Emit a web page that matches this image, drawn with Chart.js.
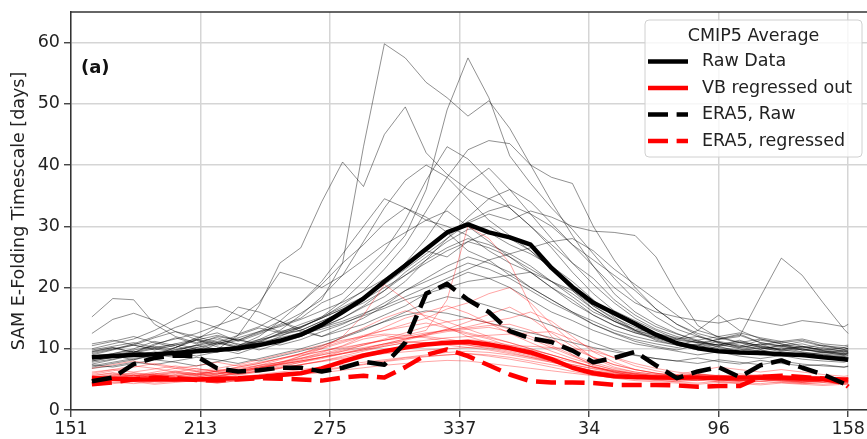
<!DOCTYPE html>
<html>
<head>
<meta charset="utf-8">
<title>SAM e-folding timescale</title>
<script src="https://cdn.jsdelivr.net/npm/chart.js@4.4.1/dist/chart.umd.min.js"></script>
<style>
  html, body { margin: 0; padding: 0; background: #fff; }
  #chart-wrap { width: 867px; height: 439px; }
</style>
</head>
<body>
<div id="chart-wrap"><canvas id="efoldChart" width="867" height="439"></canvas></div>
<script>
// day of year, counted on past new year (values > 365 wrap round)
const days = [161, 171, 181, 191, 201, 211, 221, 231, 241, 251,
              261, 271, 281, 291, 301, 311, 321, 331, 341, 351,
              361, 371, 381, 391, 401, 411, 421, 431, 441, 451,
              461, 471, 481, 491, 501, 511, 521, 523];
const xTickDays = [151, 213, 275, 337, 399, 461, 523];
const yTicks = [0, 10, 20, 30, 40, 50, 60];

const legendTitle = 'CMIP5 Average';
const seriesNames = ['Raw Data', 'VB regressed out', 'ERA5, Raw', 'ERA5, regressed'];
const panelTag = '(a)';
const yTitle = 'SAM E-Folding Timescale [days]';

// CMIP5 averages
const rawMean = [8.6, 8.8, 9.0, 9.1, 9.3, 9.6, 9.8, 10.1, 10.6, 11.3,
                 12.3, 13.9, 16.0, 18.2, 21.0, 23.6, 26.3, 29.0, 30.3, 29.0,
                 28.2, 27.0, 23.2, 20.1, 17.5, 15.8, 14.1, 12.3, 10.9, 10.1,
                 9.6, 9.4, 9.3, 9.1, 9.0, 8.6, 8.3, 8.2];
const vbMean = [5.2, 5.1, 5.0, 5.0, 5.0, 5.0, 5.1, 5.2, 5.4, 5.7,
                6.0, 6.8, 7.9, 8.9, 9.6, 10.2, 10.7, 11.0, 11.1, 10.7,
                10.1, 9.4, 8.3, 6.9, 6.0, 5.5, 5.4, 5.3, 5.3, 5.3,
                5.2, 5.3, 5.3, 5.3, 5.2, 5.1, 5.0, 5.0];

// ERA5 reanalysis
const era5Raw = [4.7, 5.3, 7.5, 8.5, 8.9, 8.8, 6.8, 6.3, 6.5, 6.9,
                 6.9, 6.3, 6.9, 7.9, 7.4, 11.0, 19.0, 20.6, 18.0, 16.0,
                 12.9, 11.7, 11.1, 9.7, 7.8, 8.5, 9.5, 7.3, 5.2, 6.3,
                 7.0, 5.4, 7.3, 8.1, 6.9, 5.8, 4.3, 4.2];
const era5Reg = [4.2, 4.5, 5.0, 5.3, 5.2, 4.9, 4.8, 5.0, 5.2, 5.1,
                 5.0, 4.8, 5.3, 5.6, 5.3, 7.0, 9.0, 9.9, 8.8, 7.3,
                 5.8, 4.7, 4.5, 4.5, 4.4, 4.1, 4.1, 4.1, 4.0, 3.8,
                 3.9, 3.9, 5.4, 5.6, 5.4, 5.1, 4.4, 3.8];

// individual models, raw
const modelsRaw = [
  [9.5,10.2,9.4,10.6,11.8,10.8,12.0,11.4,12.6,14.0, 15.8,18.0,24.0,43.0,59.8,57.5,53.5,51.0,48.0,50.5, 46.0,40.0,34.0,28.5,23.5,19.0,16.0,14.0,12.5,11.2, 10.6,11.4,10.3,9.8,10.4,9.7,9.1,9.3],
  [8.0,8.6,9.6,8.9,10.2,11.4,10.3,9.6,11.0,12.6, 13.4,15.2,17.8,21.0,24.6,28.5,36.0,49.0,57.5,51.0, 41.5,37.0,33.0,29.5,25.5,21.5,18.0,15.2,13.2,12.0, 11.0,10.4,11.4,10.8,9.8,10.2,9.5,9.8],
  [7.5,8.2,9.0,8.4,9.6,10.6,9.9,12.2,17.0,24.0, 26.5,34.0,40.5,36.5,45.0,49.5,42.0,38.5,36.0,34.5, 33.0,30.0,26.5,22.5,19.0,16.2,14.6,13.0,11.6,12.0, 11.1,10.2,10.8,9.6,10.0,9.3,9.8,9.5],
  [8.8,9.2,10.0,11.2,10.5,9.4,10.8,11.6,10.6,12.0, 13.5,15.0,17.2,19.5,23.0,27.0,32.5,38.0,42.5,44.0, 43.5,40.0,38.0,37.0,30.0,24.5,20.0,16.5,14.0,12.5, 11.6,12.4,11.0,10.5,11.2,10.4,9.9,10.1],
  [10.5,11.2,12.0,11.0,10.2,11.8,12.6,11.2,12.4,13.8, 15.0,17.5,19.0,22.5,26.0,31.0,37.5,43.0,41.0,37.5, 33.0,30.0,27.0,24.0,21.5,18.0,15.5,13.6,12.4,11.4, 12.0,11.0,10.6,11.2,10.4,9.8,10.2,10.0],
  [7.2,7.8,8.4,9.0,8.6,9.8,11.0,10.2,11.5,13.0, 15.5,18.5,22.0,27.5,33.0,37.5,40.0,38.0,34.5,31.0, 28.5,26.0,23.0,20.0,17.0,14.8,13.0,11.4,10.6,9.8, 10.4,9.5,9.0,9.4,8.8,8.5,8.7,8.6],
  [9.0,9.8,10.6,11.8,12.8,12.0,11.0,12.2,13.4,12.6, 14.0,15.2,16.8,18.5,20.5,23.0,25.5,28.0,30.5,32.0, 31.0,32.5,31.5,30.0,29.2,29.0,28.5,25.0,19.0,13.8, 11.8,11.0,11.6,10.8,10.2,10.6,9.9,10.1],
  [8.4,8.9,8.2,9.1,9.8,10.6,11.5,10.8,9.8,10.9, 12.0,13.6,15.0,16.8,18.5,21.0,24.5,28.0,31.5,34.5, 36.0,34.0,30.5,27.0,24.5,22.0,19.5,16.5,14.0,12.2, 11.0,10.4,9.9,10.6,10.0,9.4,9.0,9.2],
  [9.2,9.9,10.8,12.0,13.5,14.6,13.4,12.4,13.6,15.5, 17.5,20.5,24.0,27.0,30.5,33.0,31.5,29.0,26.0,24.5, 22.0,20.0,18.0,16.0,14.5,13.0,12.0,11.2,10.6,11.4, 10.2,9.8,10.5,9.8,9.4,9.1,8.9,9.0],
  [7.8,8.3,8.9,9.5,8.8,9.4,10.0,9.2,10.4,11.2, 12.0,13.5,15.0,17.0,19.5,22.0,24.0,26.0,27.5,26.5, 25.0,23.0,21.0,18.5,16.0,14.5,13.0,12.2,11.4,11.0, 11.5,12.0,18.5,24.8,22.0,17.5,13.2,12.5],
  [8.5,9.0,9.6,8.9,9.3,10.2,9.6,10.5,11.3,12.5, 13.0,14.5,16.0,18.5,21.0,24.0,26.0,25.0,27.5,29.0, 27.0,25.5,23.5,21.0,18.0,15.2,13.0,12.0,11.5,13.0, 15.5,13.0,11.6,11.0,11.4,10.5,10.2,10.4],
  [15.2,18.2,18.0,14.0,12.0,11.0,11.8,10.6,11.5,12.2, 13.0,14.5,16.0,17.5,19.5,22.5,25.0,27.5,29.5,30.0, 28.0,26.0,23.0,19.5,16.5,14.5,13.2,12.5,11.8,11.0, 10.6,10.2,10.8,10.4,9.8,9.6,9.4,9.6],
  [12.5,14.8,15.8,14.6,12.8,11.5,10.6,11.4,12.8,14.5, 13.2,12.0,13.5,15.0,17.0,19.5,21.0,22.5,24.0,23.0, 21.5,19.5,17.5,15.8,14.0,12.6,11.5,10.8,10.2,10.8, 10.0,9.6,10.2,9.5,9.1,9.4,9.0,9.2],
  [10.0,10.8,11.6,13.0,14.8,16.6,16.9,15.5,14.0,12.8, 13.6,15.0,16.5,18.0,20.0,22.0,24.5,26.5,28.0,27.0, 25.5,23.5,21.0,19.0,16.5,14.5,12.8,11.8,11.0,10.5, 11.2,10.6,10.0,10.5,9.8,9.5,9.2,9.4],
  [7.0,7.6,8.2,9.0,10.2,11.5,13.5,16.8,16.0,14.5, 12.8,12.0,13.0,14.0,15.5,17.0,19.0,21.0,22.5,21.5, 20.0,18.0,16.0,14.6,13.0,11.8,10.8,10.2,9.6,9.0, 9.5,8.8,8.4,8.9,8.3,8.0,7.8,8.0],
  [9.6,10.2,9.4,10.8,11.6,12.5,13.8,15.0,17.5,22.5, 21.5,20.0,22.0,24.5,27.0,29.0,31.0,30.0,28.5,26.0, 24.0,22.5,20.0,18.0,15.5,13.8,12.6,11.8,11.0,10.6, 11.6,12.2,11.0,10.4,10.8,10.0,9.7,9.9],
  [7.4,7.0,7.6,8.2,7.8,7.2,7.9,8.6,8.0,8.8, 9.6,10.5,11.8,13.0,14.5,16.0,17.5,18.5,18.0,17.0, 16.0,15.0,13.8,12.5,11.0,9.8,9.0,8.4,8.0,7.6, 8.2,7.8,7.4,8.0,7.5,7.2,7.0,7.2],
  [8.2,8.8,9.4,10.2,9.6,8.8,9.5,10.4,11.2,10.6, 11.5,12.8,14.0,15.6,17.5,19.5,21.5,23.5,25.0,24.0, 22.5,20.0,18.0,16.0,14.0,12.5,11.2,10.4,9.8,10.6, 9.6,9.2,9.8,9.1,8.7,8.9,8.5,8.6],
  [10.8,11.4,10.6,9.8,10.6,11.4,12.2,11.4,10.8,11.6, 12.4,13.2,14.2,15.4,16.6,18.0,19.0,20.0,21.0,21.5, 22.0,22.5,21.0,19.5,17.0,15.0,13.5,12.4,11.6,11.0, 10.4,11.0,10.2,9.8,10.3,9.6,9.2,9.4],
  [8.6,9.2,9.8,10.4,9.9,10.5,11.2,10.4,11.0,11.8, 12.6,13.5,14.5,15.8,17.0,18.5,20.0,21.5,23.0,24.5, 25.5,26.5,27.5,28.0,26.0,23.0,20.5,18.0,15.5,13.0, 12.0,12.6,11.8,11.2,11.6,10.8,10.5,10.6],
  [9.4,10.0,10.6,10.0,9.4,10.2,11.0,10.2,11.2,12.4, 13.6,15.0,16.5,18.5,21.0,24.0,28.0,33.0,37.0,39.5, 36.0,32.0,28.0,24.0,20.5,17.5,15.0,13.2,12.0,11.2, 10.6,11.2,10.4,10.0,10.4,9.8,9.5,9.7],
  [6.8,7.2,7.8,7.4,8.0,8.6,8.2,7.6,8.4,9.2, 10.0,11.0,12.0,13.2,14.4,15.5,16.2,15.8,15.0,14.2, 13.4,12.6,11.8,11.0,10.2,9.5,8.9,8.4,8.0,8.5, 7.9,7.5,8.1,7.6,7.2,7.4,7.0,7.1],
  [8.0,8.6,9.3,10.0,10.8,10.0,9.4,10.5,12.0,14.5, 17.5,21.0,25.5,30.0,34.5,33.0,31.0,32.5,30.0,27.5, 25.0,22.5,20.0,17.5,15.5,13.8,12.6,11.6,10.8,10.2, 10.8,10.0,9.6,10.2,9.5,9.0,8.7,8.9],
  [9.8,10.4,11.0,10.2,10.8,11.6,10.8,11.8,12.8,13.6, 14.8,16.2,17.6,19.4,21.4,23.8,26.2,28.6,30.8,32.5, 33.5,32.0,30.0,27.0,23.5,20.0,17.5,16.0,15.2,14.6, 14.2,15.0,14.4,13.8,14.6,14.2,13.6,14.0]
];

// individual models, VB regressed out
const modelsVB = [
  [5.0,5.4,5.8,5.2,5.6,6.0,5.5,6.2,6.8,7.5, 8.2,9.0,9.8,10.6,11.4,12.2,13.0,18.0,30.0,28.0, 24.0,17.0,12.0,9.0,7.2,6.2,5.8,5.5,5.2,5.6, 5.3,5.0,5.4,5.1,4.9,5.2,4.8,5.0],
  [4.8,5.2,5.6,6.0,5.5,5.0,5.6,6.2,7.0,7.8, 8.8,10.0,12.0,15.5,20.5,18.0,15.0,13.5,12.0,11.0, 10.0,9.0,8.0,7.0,6.2,5.6,5.2,5.0,4.8,5.1, 4.9,4.7,5.0,4.8,4.6,4.8,4.5,4.6],
  [5.6,6.0,5.4,5.8,6.2,5.7,6.4,7.0,7.6,8.4, 9.2,10.0,11.0,12.0,13.0,14.0,15.0,16.5,17.5,19.0, 20.0,17.5,14.0,11.0,8.5,7.0,6.2,5.8,5.5,5.2, 5.6,5.3,5.0,5.4,5.1,4.8,5.0,5.1],
  [4.4,4.8,5.2,5.6,5.0,5.4,5.9,6.4,7.0,7.6, 8.4,9.4,10.5,12.0,13.5,15.0,16.0,17.0,15.8,14.2, 12.5,11.0,9.6,8.4,7.4,6.6,6.0,5.6,5.2,5.5, 5.0,4.8,5.2,4.9,4.6,4.8,4.4,4.5],
  [5.2,5.6,6.0,5.6,6.2,6.8,6.2,5.8,6.4,7.0, 7.8,8.6,9.6,10.6,11.6,12.6,13.6,14.4,15.0,14.2, 13.2,12.0,10.5,9.0,7.8,6.8,6.2,5.8,5.6,5.3, 5.7,5.4,5.2,5.5,5.3,5.0,5.2,5.3],
  [6.0,6.6,7.2,6.8,6.2,5.8,6.4,7.0,7.6,8.4, 9.2,10.2,11.2,12.2,13.0,13.6,14.2,13.4,12.6,11.8, 11.0,10.0,9.0,8.0,7.0,6.4,6.0,5.6,5.4,5.8, 5.5,5.2,5.6,5.3,5.0,5.3,5.0,5.1],
  [4.6,5.0,5.4,5.0,4.7,5.1,5.6,6.0,6.6,7.2, 7.8,8.4,9.2,10.0,10.8,11.6,12.2,12.8,13.2,13.5, 12.8,11.6,10.2,8.8,7.5,6.5,5.8,5.3,5.0,4.8, 5.2,4.9,4.7,5.0,4.8,4.5,4.7,4.8],
  [5.4,5.8,5.3,5.0,5.5,6.0,6.6,6.2,6.8,7.4, 8.0,8.6,9.2,9.8,10.4,11.0,11.4,11.8,12.0,12.2, 12.4,12.6,12.8,11.5,10.0,8.5,7.2,6.4,5.8,5.5, 5.2,5.6,5.3,5.0,5.4,5.1,4.9,5.0],
  [5.8,6.4,7.0,7.6,7.0,6.4,6.8,7.4,8.2,9.0, 9.8,10.6,11.4,12.0,12.4,12.2,11.8,11.2,10.6,10.0, 9.4,8.6,7.8,7.0,6.4,6.0,5.6,5.3,5.1,5.4, 5.1,4.9,5.3,5.0,4.8,5.0,4.7,4.8],
  [4.2,4.5,4.8,4.4,4.7,5.0,4.6,5.0,5.4,5.8, 6.2,6.6,7.0,7.5,8.0,8.5,8.8,9.0,9.2,9.0, 8.6,8.0,7.4,6.8,6.2,5.6,5.2,4.9,4.6,4.4, 4.7,4.5,4.3,4.6,4.4,4.2,4.4,4.3],
  [5.0,5.3,5.0,5.5,6.0,5.6,5.2,5.7,6.2,6.8, 7.4,8.0,8.6,9.2,9.8,10.4,10.8,11.2,11.5,11.2, 10.6,9.8,9.0,8.0,7.0,6.2,5.6,5.2,5.0,5.3, 5.0,4.8,5.1,4.9,4.7,4.9,4.6,4.7],
  [6.8,7.4,8.0,7.4,6.8,7.2,7.8,7.2,7.8,8.4, 9.0,9.6,10.2,10.8,11.4,12.0,12.6,13.0,13.4,13.8, 14.0,13.0,11.5,10.0,8.6,7.4,6.6,6.0,5.6,5.9, 5.6,5.4,5.8,5.5,5.2,5.4,5.1,5.2],
  [4.8,5.2,5.7,5.3,5.8,6.3,5.9,6.5,7.3,8.2, 9.2,10.4,11.8,13.4,15.0,16.2,15.4,14.4,13.2,12.0, 11.0,10.0,9.0,8.0,7.0,6.2,5.6,5.2,4.9,5.2, 4.9,4.7,5.0,4.8,4.5,4.7,4.4,4.5],
  [5.3,5.7,6.1,5.7,5.3,5.8,6.3,5.9,6.4,6.9, 7.4,7.9,8.4,8.8,9.2,9.5,9.8,10.0,10.2,10.4, 10.5,10.4,10.2,10.0,9.6,8.6,7.6,6.8,6.2,5.8, 5.5,5.9,5.6,5.3,5.6,5.4,5.1,5.2],
  [4.5,4.9,5.3,5.8,5.3,4.9,5.4,6.0,6.8,7.6, 8.8,9.6,10.4,11.6,12.2,11.6,12.4,13.2,12.4,11.6, 10.4,9.4,8.6,7.8,7.0,6.4,5.9,5.5,5.2,5.5, 5.2,5.0,5.3,5.1,4.8,5.0,4.7,4.8],
  [4.0,4.3,4.6,4.2,4.5,4.8,4.4,4.8,5.2,5.6, 6.0,6.4,6.9,7.4,7.9,8.3,8.7,9.0,9.2,8.8, 8.3,7.7,7.0,6.3,5.7,5.2,4.8,4.6,4.4,4.2, 4.5,4.3,4.1,4.4,4.2,4.0,4.2,4.1],
  [5.6,6.1,5.6,6.2,6.8,6.3,5.8,6.4,7.0,7.5, 8.0,8.6,9.2,9.8,10.6,11.4,12.2,13.2,14.4,15.6, 16.8,15.0,12.6,10.4,8.6,7.4,6.6,6.0,5.6,5.9, 5.6,5.3,5.7,5.4,5.1,5.3,5.0,5.1],
  [5.1,5.5,5.1,4.8,5.2,5.6,6.1,6.6,7.2,7.8, 8.5,9.2,10.0,10.8,11.4,11.8,12.0,11.6,11.0,10.4, 9.8,9.0,8.2,7.4,6.7,6.1,5.6,5.3,5.0,5.3, 5.0,4.8,5.2,4.9,4.7,4.9,4.6,4.7],
  [4.9,5.3,5.7,5.3,4.9,5.4,5.9,6.4,6.9,7.4, 8.0,8.6,9.3,10.0,10.8,11.6,12.4,13.0,13.6,14.4, 15.0,16.0,14.5,12.0,9.5,7.8,6.6,6.0,5.6,5.3, 5.6,5.3,5.0,5.4,5.1,4.8,5.0,5.1],
  [6.2,6.6,6.2,6.7,7.2,6.7,6.3,6.8,7.3,7.8, 8.4,9.0,9.6,10.2,10.8,11.2,11.0,10.6,10.2,9.8, 9.2,8.6,8.0,7.4,6.8,6.3,5.9,5.6,5.8,6.4, 7.0,6.6,6.2,6.6,6.2,5.8,5.5,5.6],
  [4.3,4.6,4.3,4.7,5.0,4.7,4.4,4.8,5.1,5.4, 5.8,6.1,6.5,6.9,7.3,7.6,7.9,8.1,8.0,7.6, 7.2,6.8,6.4,6.0,5.6,5.3,5.0,4.8,4.6,4.9, 4.6,4.4,4.7,4.5,4.3,4.5,4.2,4.3],
  [5.5,5.2,4.9,5.3,5.7,5.3,5.0,5.4,5.8,6.2, 6.6,7.0,7.4,7.8,8.2,8.6,9.0,9.4,9.6,9.4, 9.0,8.4,7.8,7.0,6.4,5.9,5.5,5.2,5.0,4.8, 5.1,4.9,4.7,5.0,4.8,4.6,4.8,4.7],
  [4.6,5.0,5.4,5.9,6.4,5.9,5.5,5.9,6.3,6.8, 7.4,8.0,8.8,9.6,10.4,11.0,11.0,10.8,10.6,10.2, 9.6,8.8,8.0,7.2,6.4,5.8,5.4,5.1,4.9,5.2, 4.9,4.7,5.0,4.7,4.5,4.7,4.4,4.5]
];

const FONT = '"DejaVu Sans", "Liberation Sans", sans-serif';
const TEXT = '#222';
const DASH = [20, 8.6];

const toPoints = vals => days.map((d, i) => ({ x: d, y: vals[i] }));

// bold lines first, thin spaghetti after; 'order' decides what sits on top
const datasets = [
    { label: seriesNames[2], data: toPoints(era5Raw), borderColor: '#000', borderWidth: 4.5, borderDash: DASH, order: 0 },
    { label: seriesNames[3], data: toPoints(era5Reg), borderColor: '#ff0000', borderWidth: 4.5, borderDash: DASH, order: 1 },
    { label: seriesNames[1], data: toPoints(vbMean), borderColor: '#ff0000', borderWidth: 4.5, order: 2 },
    { label: seriesNames[0], data: toPoints(rawMean), borderColor: '#000', borderWidth: 4.5, order: 3 }
];
modelsVB.forEach(m => datasets.push({ data: toPoints(m), borderColor: 'rgba(255,0,0,0.45)', borderWidth: 0.8, order: 4 }));
modelsRaw.forEach(m => datasets.push({ data: toPoints(m), borderColor: 'rgba(0,0,0,0.55)', borderWidth: 0.8, order: 5 }));

const legendItems = [
    { text: seriesNames[0], color: '#000', dash: [] },
    { text: seriesNames[1], color: '#ff0000', dash: [] },
    { text: seriesNames[2], color: '#000', dash: DASH },
    { text: seriesNames[3], color: '#ff0000', dash: DASH }
];

// top frame line, panel tag and the boxed legend inside the axes
const frameAndLegend = {
    id: 'frameAndLegend',
    afterDraw(chart) {
        const { ctx, chartArea: area } = chart;
        ctx.save();

        ctx.strokeStyle = '#333';
        ctx.lineWidth = 1.5;
        ctx.beginPath();
        ctx.moveTo(area.left, area.top);
        ctx.lineTo(area.right, area.top);
        ctx.stroke();

        ctx.fillStyle = '#111';
        ctx.font = 'bold 18px ' + FONT;
        ctx.textBaseline = 'middle';
        ctx.textAlign = 'left';
        ctx.fillText(panelTag, area.left + 10, area.top + 56);

        // legend frame
        const bx = area.right - 222, by = area.top + 8, bw = 217, bh = 137, r = 4;
        ctx.beginPath();
        ctx.moveTo(bx + r, by);
        ctx.lineTo(bx + bw - r, by);
        ctx.arcTo(bx + bw, by, bx + bw, by + r, r);
        ctx.lineTo(bx + bw, by + bh - r);
        ctx.arcTo(bx + bw, by + bh, bx + bw - r, by + bh, r);
        ctx.lineTo(bx + r, by + bh);
        ctx.arcTo(bx, by + bh, bx, by + bh - r, r);
        ctx.lineTo(bx, by + r);
        ctx.arcTo(bx, by, bx + r, by, r);
        ctx.closePath();
        ctx.fillStyle = 'rgba(255,255,255,0.8)';
        ctx.fill();
        ctx.strokeStyle = '#d0d0d0';
        ctx.lineWidth = 1;
        ctx.stroke();

        ctx.font = '17.5px ' + FONT;
        ctx.fillStyle = TEXT;
        ctx.textAlign = 'center';
        ctx.fillText(legendTitle, bx + bw / 2, by + 16);

        ctx.textAlign = 'left';
        legendItems.forEach((item, i) => {
            const y = by + 41.5 + i * 26.5;
            ctx.strokeStyle = item.color;
            ctx.lineWidth = 4.5;
            ctx.lineCap = 'butt';
            ctx.setLineDash(item.dash);
            ctx.beginPath();
            ctx.moveTo(bx + 3, y);
            ctx.lineTo(bx + 43, y);
            ctx.stroke();
            ctx.setLineDash([]);
            ctx.fillStyle = TEXT;
            ctx.fillText(item.text, bx + 57, y);
        });

        ctx.restore();
    }
};

new Chart(document.getElementById('efoldChart'), {
    type: 'line',
    data: { datasets },
    options: {
        responsive: false,
        animation: false,
        devicePixelRatio: 1,
        layout: { padding: { top: 12, right: 0, bottom: 0, left: 0 } },
        elements: {
            point: { radius: 0 },
            line: { tension: 0, borderJoinStyle: 'round', fill: false }
        },
        plugins: {
            legend: { display: false },
            tooltip: { enabled: false }
        },
        scales: {
            x: {
                type: 'linear',
                min: 151,
                max: 532,
                afterBuildTicks: s => { s.ticks = xTickDays.map(v => ({ value: v })); },
                afterFit: s => { s.height = 29; s.paddingLeft = 0; s.paddingRight = 0; },
                ticks: {
                    autoSkip: false,
                    maxRotation: 0,
                    padding: 2,
                    color: TEXT,
                    font: { family: FONT, size: 17.5 },
                    callback: v => (v > 365 ? v - 365 : v)
                },
                grid: { color: '#d5d5d5', lineWidth: 1.5, tickLength: 7, tickColor: '#333', tickWidth: 1.3 },
                border: { color: '#333', width: 1.5 }
            },
            y: {
                min: 0,
                max: 65,
                afterBuildTicks: s => { s.ticks = yTicks.map(v => ({ value: v })); },
                afterFit: s => { s.width = 71; s.paddingTop = 0; s.paddingBottom = 0; },
                ticks: {
                    padding: 4,
                    color: TEXT,
                    font: { family: FONT, size: 17.5 }
                },
                grid: { color: '#d5d5d5', lineWidth: 1.5, tickLength: 7, tickColor: '#333', tickWidth: 1.3 },
                border: { color: '#333', width: 1.5 },
                title: {
                    display: true,
                    text: yTitle,
                    color: TEXT,
                    font: { family: FONT, size: 17.5 },
                    padding: { top: 9, bottom: 0 }
                }
            }
        }
    },
    plugins: [frameAndLegend]
});
</script>
</body>
</html>
